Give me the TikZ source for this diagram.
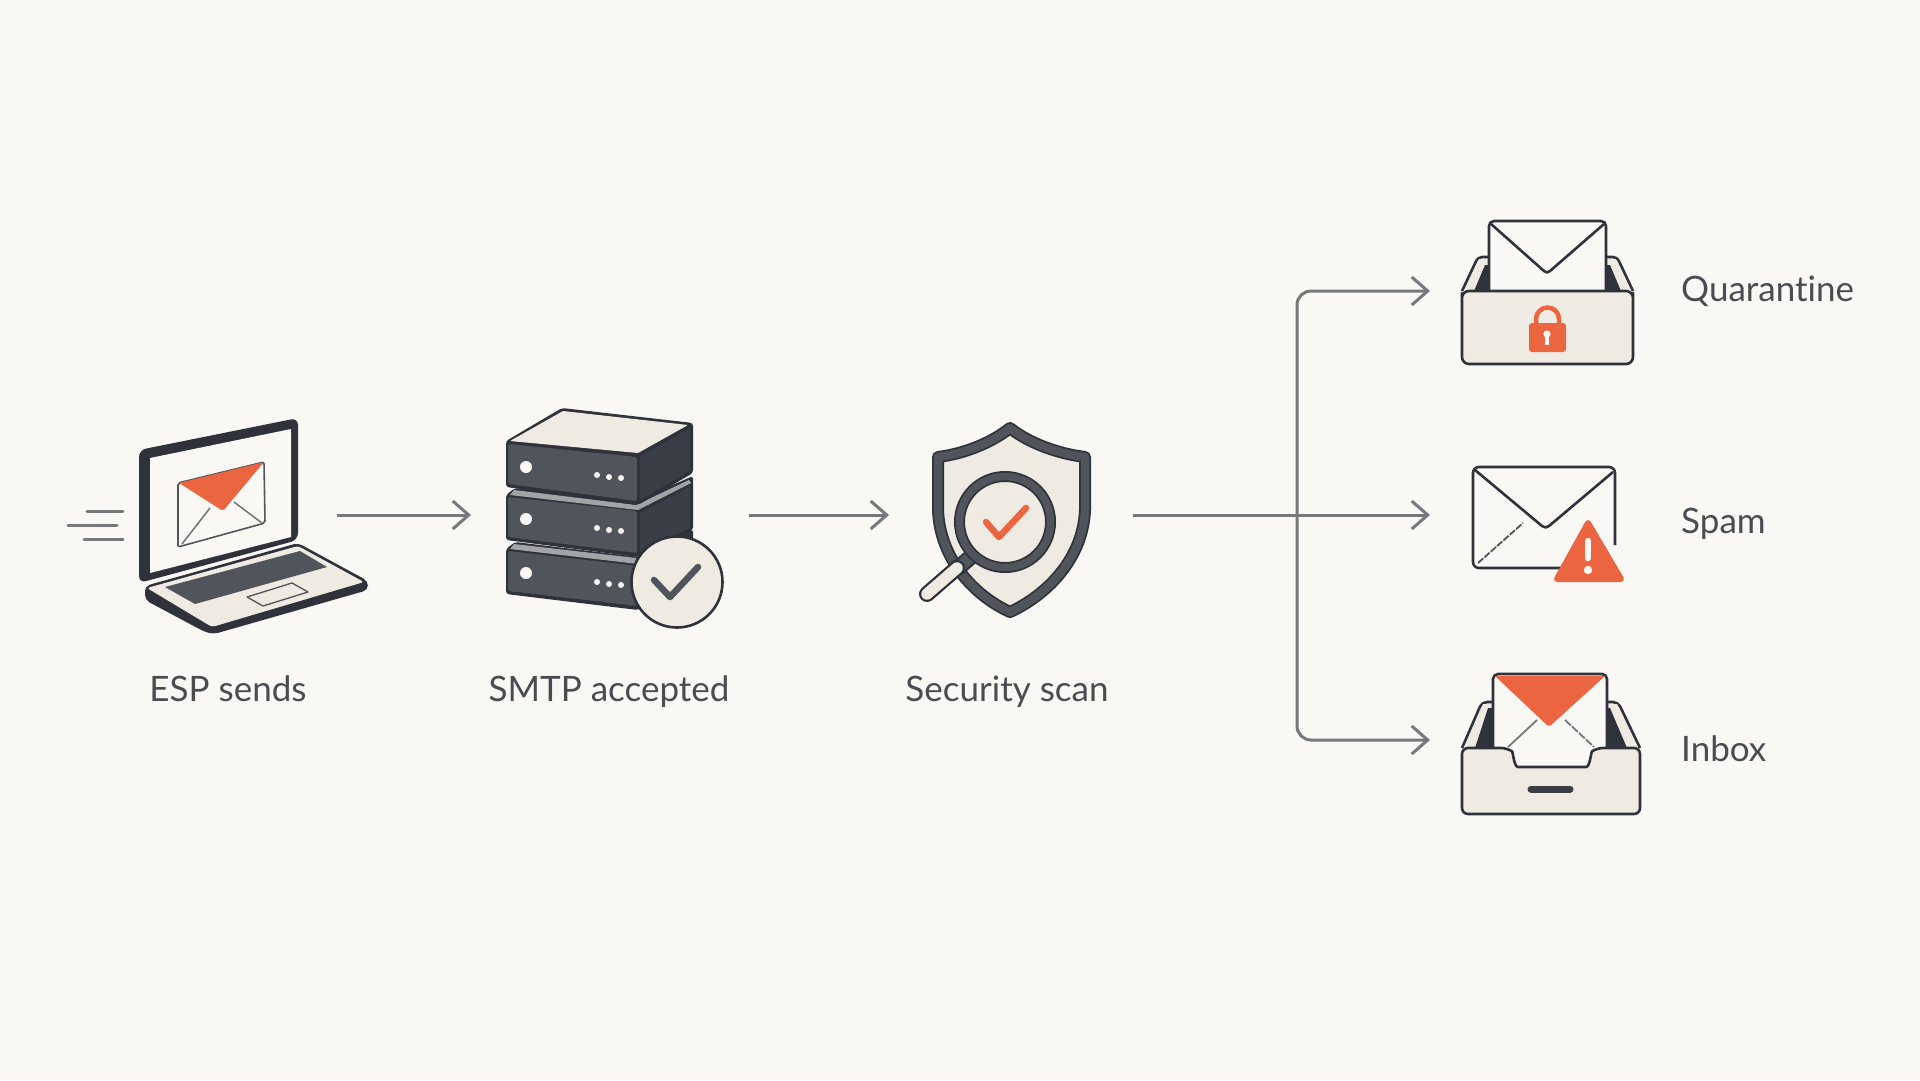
\documentclass[tikz,border=0pt]{standalone}
\usepackage{fontspec}
\setmainfont[Ligatures=NoCommon]{Lato}
\usetikzlibrary{arrows.meta}
\definecolor{bgc}{HTML}{FAF8F5}
\definecolor{inkc}{HTML}{2F323A}
\definecolor{grayc}{HTML}{52545B}
\definecolor{sidec}{HTML}{3A3D46}
\definecolor{stripc}{HTML}{A3A4A6}
\definecolor{creamc}{HTML}{EFEBE3}
\definecolor{orangec}{HTML}{EA6540}
\definecolor{linkc}{HTML}{77787B}
\definecolor{textc}{HTML}{4A4C52}
\tikzset{
  x=1pt,y=-1pt,
  anchorbox/.style={inner sep=0pt,outer sep=0pt,draw=none,fill=none},
  link/.style={draw=linkc,line width=3pt,-{Straight Barb[length=16pt,width=28pt,line width=3pt]}},
  speed/.style={draw=linkc,line width=3pt,line cap=round},
  lbl/.style={inner sep=0pt,text=textc,font=\fontsize{35}{42}\selectfont},
  ink/.style={draw=inkc,line width=2.6pt,line join=round},
}
\begin{document}
\begin{tikzpicture}
\useasboundingbox (0,0) rectangle (1920,1080);
\fill[bgc] (0,0) rectangle (1920,1080);

% anchor boxes for the connectors
\node[anchorbox,minimum width=269pt,minimum height=200pt] (esp) at (202.5,515) {};
\node[anchorbox,minimum width=278pt,minimum height=200pt] (smtp) at (610,515) {};
\node[anchorbox,minimum width=244pt,minimum height=200pt] (scan) at (1011,515) {};
\node[anchorbox,minimum width=210pt,minimum height=80pt,anchor=west] (quar) at (1430,291) {};
\node[anchorbox,minimum width=210pt,minimum height=80pt,anchor=west] (spam) at (1430,515) {};
\node[anchorbox,minimum width=210pt,minimum height=80pt,anchor=west] (inbox) at (1430,740) {};
\coordinate (branch) at (1297,515);

% connectors
\draw[link] (esp.east) -- (smtp.west);
\draw[link] (smtp.east) -- (scan.west);
\draw[link] (scan.east) -- (spam.west);
\draw[link,rounded corners=14pt] (branch) |- (quar.west);
\draw[link,rounded corners=14pt] (branch) |- (inbox.west);

% laptop
\draw[speed] (87,511) -- (123,511);
\draw[speed] (68,525) -- (117,525);
\draw[speed] (84,539) -- (123,539);
\fill[inkc,rounded corners=5pt] (145,586) -- (298,543) -- (368,581) -- (368,590) -- (214,634) -- (205,632) -- (145,600) -- cycle;
\fill[creamc,rounded corners=3pt] (147,588) -- (298,546) -- (364,582) -- (212,627) -- cycle;
\fill[grayc] (165,587) -- (300,551) -- (327,567) -- (195,604) -- cycle;
\draw[draw=grayc,line width=1.3pt,line join=round] (247,597) -- (292,583) -- (308,592) -- (263,606) -- cycle;
\fill[inkc,rounded corners=7pt] (139,583) -- (139,450) -- (298,418) -- (298,540) -- cycle;
\fill[bgc] (150,458) -- (291,429) -- (291,537) -- (150,573) -- cycle;
\draw[draw=grayc,line width=1.6pt,line join=round,rounded corners=2pt] (178,483) -- (264,462) -- (265,523) -- (178,547) -- cycle;
\draw[draw=linkc,line width=1.6pt] (182,544) -- (210,508);
\draw[draw=linkc,line width=1.6pt] (262,523) -- (234,502);
\fill[orangec,rounded corners=2pt] (179,483) -- (264,462) -- (223,511) -- cycle;

% server stack
\fill[inkc,rounded corners=3pt] (506,549) -- (515,542) -- (640,557) -- (693,529) -- (693,578) -- (638,610) -- (506,594) -- cycle;
\fill[grayc,rounded corners=2pt] (508,551) -- (638,566) -- (638,606) -- (508,591) -- cycle;
\fill[stripc] (514,544) -- (636,558) -- (638,564) -- (510,549) -- cycle;
\fill[inkc,rounded corners=3pt] (506,495) -- (515,488) -- (638,500) -- (693,476) -- (693,530) -- (638,557) -- (506,540) -- cycle;
\fill[grayc,rounded corners=2pt] (508,497) -- (637,511) -- (637,553) -- (508,537) -- cycle;
\fill[stripc] (514,490) -- (636,505) -- (689,480) -- (691,483) -- (638,510) -- (510,495) -- cycle;
\fill[sidec] (640,513) -- (690,486) -- (690,528) -- (640,553) -- cycle;
\fill[inkc,rounded corners=3pt] (506,441) -- (562,408) -- (693,423) -- (693,473) -- (638,505) -- (506,487) -- cycle;
\fill[creamc,rounded corners=1pt] (510,441) -- (563,411) -- (688,425) -- (638,453) -- cycle;
\fill[grayc,rounded corners=2pt] (508,444) -- (637,457) -- (637,501) -- (508,484) -- cycle;
\fill[sidec] (640,456) -- (690,428) -- (690,471) -- (640,500) -- cycle;
\fill[bgc] (526,467) circle (6pt) (526,519) circle (6pt) (526,573) circle (6pt);
\fill[bgc] (597,475) circle (3pt) (609,477) circle (3pt) (621,478) circle (3pt);
\fill[bgc] (597,528) circle (3pt) (609,530) circle (3pt) (621,531) circle (3pt);
\fill[bgc] (597,582) circle (3pt) (609,584) circle (3pt) (621,585) circle (3pt);
\draw[ink,fill=creamc] (677,582) circle (45.5pt);
\draw[draw=grayc,line width=6.5pt,line cap=round,line join=round] (654,580) -- (670,597) -- (698,567);

% shield
\path[fill=creamc] (1010,428) .. controls (990,444) and (962,454) .. (938,457) -- (938,510) .. controls (940,560) and (975,596) .. (1010,612) .. controls (1045,596) and (1083,560) .. (1085,510) -- (1085,457) .. controls (1060,454) and (1030,444) .. (1010,428) -- cycle;
\draw[inkc,line width=12pt,line join=round] (1010,428) .. controls (990,444) and (962,454) .. (938,457) -- (938,510) .. controls (940,560) and (975,596) .. (1010,612) .. controls (1045,596) and (1083,560) .. (1085,510) -- (1085,457) .. controls (1060,454) and (1030,444) .. (1010,428) -- cycle;
\draw[grayc,line width=8.5pt,line join=round] (1010,428) .. controls (990,444) and (962,454) .. (938,457) -- (938,510) .. controls (940,560) and (975,596) .. (1010,612) .. controls (1045,596) and (1083,560) .. (1085,510) -- (1085,457) .. controls (1060,454) and (1030,444) .. (1010,428) -- cycle;
\draw[inkc,line width=16pt] (972,556) -- (958,568);
\draw[grayc,line width=12pt] (972,556) -- (958,568);
\draw[inkc,line width=16pt,line cap=round] (957,568) -- (927,594);
\draw[creamc,line width=11.5pt,line cap=round] (957,568) -- (927,594);
\fill[creamc] (1005,522) circle (45pt);
\draw[inkc,line width=11pt] (1005,522) circle (45.5pt);
\draw[grayc,line width=7.5pt] (1005,522) circle (45.5pt);
\draw[orangec,line width=6.5pt,line cap=round,line join=round] (986,522) -- (999,537) -- (1026,508);

% quarantine tray
\draw[ink,fill=creamc,rounded corners=4pt] (1462,291) -- (1478,257) -- (1490,257);
\draw[ink,fill=creamc,rounded corners=4pt] (1633,291) -- (1617,257) -- (1605,257);
\fill[creamc] (1464,291) -- (1479,259) -- (1490,259) -- (1490,291) -- cycle;
\fill[creamc] (1631,291) -- (1616,259) -- (1605,259) -- (1605,291) -- cycle;
\fill[inkc] (1474,291) -- (1485,265) -- (1490,265) -- (1490,291) -- cycle;
\fill[inkc] (1621,291) -- (1610,265) -- (1604,265) -- (1604,291) -- cycle;
\draw[ink,fill=bgc,rounded corners=5pt] (1489,292) -- (1489,221) -- (1606,221) -- (1606,292);
\draw[ink] (1491,224) -- (1544,271) .. controls (1546,273) and (1548,273) .. (1550,271) -- (1604,224);
\draw[ink,fill=creamc,rounded corners=7pt] (1462,300) -- (1462,291) -- (1633,291) -- (1633,300) -- (1633,364) -- (1462,364) -- cycle;
\draw[orangec,line width=4.5pt] (1536,325) -- (1536,319) arc[start angle=180,end angle=0,radius=11.5pt] -- (1559,325);
\fill[orangec,rounded corners=3pt] (1529,323) rectangle (1566,352);
\fill[bgc] (1547,334) circle (3.6pt);
\fill[bgc] (1545,335) rectangle (1549,345);

% spam envelope
\draw[ink,fill=bgc,rounded corners=6pt] (1615,545) -- (1615,467) -- (1473,467) -- (1473,568) -- (1570,568);
\draw[ink] (1475,470) -- (1542,526) .. controls (1544,528) and (1547,528) .. (1549,526) -- (1613,472);
\draw[draw=grayc,line width=1.8pt,dash pattern=on 7pt off 1.5pt] (1478,563) -- (1523,523);
\draw[orangec,fill=orangec,line width=6pt,line join=round] (1588,523) -- (1557,579) -- (1621,579) -- cycle;
\draw[bgc,line width=6.5pt,line cap=round] (1588,541) -- (1588,558);
\fill[bgc] (1588,570) circle (4.2pt);

% inbox tray
\draw[ink,fill=creamc,rounded corners=5pt] (1462,748) -- (1482,702) -- (1495,702);
\draw[ink,fill=creamc,rounded corners=5pt] (1640,748) -- (1618,702) -- (1605,702);
\fill[creamc] (1464,748) -- (1483,704) -- (1495,704) -- (1495,748) -- cycle;
\fill[creamc] (1638,748) -- (1617,704) -- (1605,704) -- (1605,748) -- cycle;
\fill[inkc] (1475,748) -- (1488,708) -- (1494,708) -- (1494,748) -- cycle;
\fill[inkc] (1627,748) -- (1610,708) -- (1606,708) -- (1606,748) -- cycle;
\draw[ink,fill=bgc,rounded corners=5pt] (1493,750) -- (1493,674) -- (1607,674) -- (1607,750);
\fill[orangec,rounded corners=2pt] (1495,676) -- (1605,676) -- (1549,727) -- cycle;
\draw[draw=linkc,line width=1.8pt] (1508,747) -- (1537,720);
\draw[draw=linkc,line width=1.8pt,dash pattern=on 8pt off 1.5pt] (1565,720) -- (1594,747);
\draw[ink,fill=creamc,rounded corners=6pt] (1462,760) -- (1462,748) -- (1507,748) .. controls (1513,752) and (1514,767) .. (1524,767) -- (1580,767) .. controls (1590,767) and (1591,752) .. (1597,748) -- (1640,748) -- (1640,814) -- (1462,814) -- cycle;
\draw[sidec,line width=7pt,line cap=round] (1531,789) -- (1570,789);

% labels
\node[lbl,anchor=base] (lblesp) at (228,701) {ESP sends};
\node[lbl,anchor=base] (lblsmtp) at (609,701) {SMTP accepted};
\node[lbl,anchor=base] (lblscan) at (1007,701) {Security scan};
\node[lbl,anchor=base west] (lblquar) at (1681,301) {Quarantine};
\node[lbl,anchor=base west] (lblspam) at (1681,533) {Spam};
\node[lbl,anchor=base west] (lblinbox) at (1681,761) {Inbox};
\end{tikzpicture}
\end{document}
